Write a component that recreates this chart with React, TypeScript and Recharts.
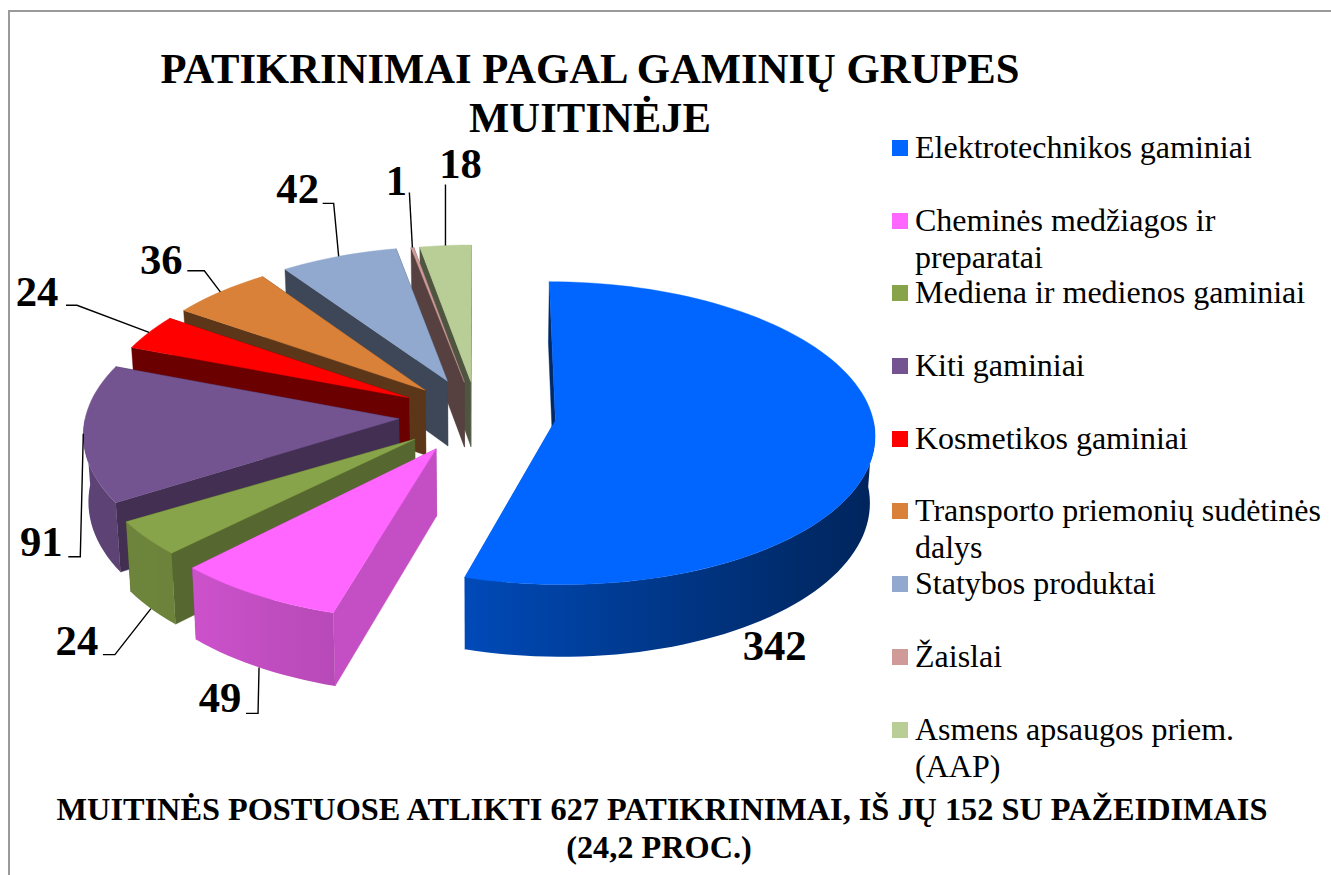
import React from "react";
import { PieChart, Pie, Legend } from "recharts";

const categories = [
  "Elektrotechnikos gaminiai",
  "Cheminės medžiagos ir preparatai",
  "Mediena ir medienos gaminiai",
  "Kiti gaminiai",
  "Kosmetikos gaminiai",
  "Transporto priemonių sudėtinės dalys",
  "Statybos produktai",
  "Žaislai",
  "Asmens apsaugos priem. (AAP)",
];
const values = [342, 49, 24, 91, 24, 36, 42, 1, 18];
const colors = ["#0066FF", "#FF66FF", "#88A44A", "#735390", "#FF0000", "#D98138", "#91A8CF", "#CF9A98", "#B9CD96"];
const explosions = [0.249, 0.25, 0.248, 0.247, 0.245, 0.233, 0.243, 0.22, 0.22];
const radii = [1, 1, 1, 0.988, 0.977, 0.989, 0.984, 1, 1];
const flatten = [0.97, 0.98, 0.95, 1, 1, 1, 1, 1, 1];
const titleLines = ["PATIKRINIMAI PAGAL GAMINIŲ GRUPES", "MUITINĖJE"];
const footerLines = ["MUITINĖS POSTUOSE ATLIKTI 627 PATIKRINIMAI, IŠ JŲ 152 SU PAŽEIDIMAIS", "(24,2 PROC.)"];
const footerCenters = [662, 659];

// Label placement relative to the slice's rim point: text, leader start, leader elbow, rim level
type LabelPlace = { text: [number, number]; start?: [number, number]; elbow?: [number, number]; z: number };
const labelPlaces: LabelPlace[] = [
  { text: [-95, 151], z: 1 },
  { text: [-39, 45], start: [-13, 46], elbow: [-1, 46], z: 1 },
  { text: [-74, 46], start: [-48, 46], elbow: [-36, 46], z: 1 },
  { text: [-42, 122], start: [-15, 123], elbow: [-3, 123], z: 0 },
  { text: [-112, -26], start: [-83, -27], elbow: [-72, -27], z: 0 },
  { text: [-59, -18], start: [-33, -21], elbow: [-16, -21], z: 0 },
  { text: [-41, -53], start: [-16, -53], elbow: [-5, -53], z: 0 },
  { text: [-16, -53], elbow: [-3, -55], z: 0 },
  { text: [15, -68], elbow: [0, -61], z: 0 },
];

// data table, drawn back-to-front so nearer slices cover farther ones
const table = categories
  .map((name, i) => ({ name, value: values[i], fill: colors[i], order: i }))
  .reverse();

const SERIF = "'Liberation Serif', 'Times New Roman', serif";
const RATIO = 0.486; // flattening of the tilted disc
const PERSP = 0.086; // perspective growth toward the viewer
const DEPTH = 66; // thickness of the disc
const SHRINK = 0.013; // lower face is slightly narrower
const RAD = Math.PI / 180;

function project(
  cx: number, cy: number, A: number, e: number, m: number, r: number, t: number, z: number, ry = 1,
) {
  const x = e * Math.sin(m * RAD) + r * Math.sin(t * RAD);
  const y = -e * Math.cos(m * RAD) - r * ry * Math.cos(t * RAD);
  const f = 1 / (1 - y * PERSP);
  return {
    x: cx + x * A * f * (1 - z * SHRINK),
    y: cy + y * A * RATIO * f + z * DEPTH * f,
  };
}

function shade(hex: string, b: number) {
  const n = parseInt(hex.slice(1), 16);
  const c = (v: number) => Math.min(255, Math.round(v * b)).toString(16).padStart(2, "0");
  return `#${c((n >> 16) & 255)}${c((n >> 8) & 255)}${c(n & 255)}`;
}

const rimStops: [number, number][] = [
  [90, 0.34], [130, 0.4], [160, 0.52], [196, 0.72], [224, 0.8], [270, 0.82],
];
function rimBright(t: number) {
  for (let i = 1; i < rimStops.length; i++) {
    const [a, ba] = rimStops[i - 1];
    const [b, bb] = rimStops[i];
    if (t <= b) return ba + ((bb - ba) * (t - a)) / (b - a);
  }
  return 0.82;
}
function wallBright(t: number) {
  if (t < 180) return 0.4;
  return Math.max(0.42, 0.42 + ((270 - t) / 74) * 0.35);
}

const toPath = (pts: { x: number; y: number }[]) =>
  pts.map((p, i) => `${i ? "L" : "M"}${p.x.toFixed(2)} ${p.y.toFixed(2)}`).join("") + "Z";

function clockRange(startAngle: number, endAngle: number) {
  return [90 - Math.max(startAngle, endAngle), 90 - Math.min(startAngle, endAngle)];
}

function Slice3D(props: any) {
  const { cx, cy, outerRadius: A, startAngle, endAngle, fill, payload } = props;
  const order: number = payload?.order ?? props.order;
  const [t0, t1] = clockRange(startAngle, endAngle);
  const m = (t0 + t1) / 2;
  const e = explosions[order];
  const R = radii[order];
  const P = (r: number, t: number, z: number) => project(cx, cy, A, e, m, r * R, t, z, flatten[order]);

  const arc = (a: number, b: number, z: number) => {
    const n = Math.max(2, Math.ceil((b - a) / 2));
    return Array.from({ length: n + 1 }, (_, i) => P(1, a + ((b - a) * i) / n, z));
  };
  const top = toPath([P(0, 0, 0), ...arc(t0, t1, 0)]);
  const wall = (t: number) => toPath([P(0, 0, 0), P(1, t, 0), P(1, t, 1), P(0, 0, 1)]);

  const ra = Math.max(t0, 90);
  const rb = Math.min(t1, 270);
  const hasRim = rb > ra;
  const gid = `rim-${order}`;
  const stops: { o: number; c: string }[] = [];
  let x0 = 0;
  let x1 = 1;
  if (hasRim) {
    x0 = P(1, rb, 0).x;
    x1 = P(1, ra, 0).x;
    for (let i = 0; i <= 12; i++) {
      const t = rb + ((ra - rb) * i) / 12;
      stops.push({ o: (P(1, t, 0).x - x0) / (x1 - x0 || 1), c: shade(fill, rimBright(t)) });
    }
  }
  const endShade = shade(fill, wallBright(t1));
  const startShade = shade(fill, wallBright(t0));
  return (
    <g>
      {hasRim && (
        <defs>
          <linearGradient id={gid} gradientUnits="userSpaceOnUse" x1={x0} x2={x1} y1={0} y2={0}>
            {stops.map((s, i) => (
              <stop key={i} offset={s.o} stopColor={s.c} />
            ))}
          </linearGradient>
        </defs>
      )}
      <path d={wall(t1)} fill={endShade} stroke={endShade} strokeWidth={0.4} />
      <path d={wall(t0)} fill={startShade} stroke={startShade} strokeWidth={0.4} />
      {hasRim && <path d={toPath([...arc(ra, rb, 0), ...arc(ra, rb, 1).reverse()])} fill={`url(#${gid})`} />}
      <path d={top} fill={fill} stroke={fill} strokeWidth={0.4} />
    </g>
  );
}

function SliceLabel(props: any) {
  const { cx, cy, outerRadius: A, midAngle, value, payload } = props;
  const order: number = payload?.order ?? props.order;
  const place = labelPlaces[order];
  const m = 90 - midAngle;
  const norm = ((m % 360) + 360) % 360;
  const p = project(cx, cy, A, explosions[order], norm, radii[order], norm, place.z, flatten[order]);
  const pts = [place.start, place.elbow]
    .filter(Boolean)
    .map((d) => `${p.x + d![0]},${p.y + d![1]}`);
  return (
    <g>
      {pts.length > 0 && (
        <polyline points={[...pts, `${p.x},${p.y}`].join(" ")} fill="none" stroke="#000" strokeWidth={1.4} />
      )}
      <text
        x={p.x + place.text[0]}
        y={p.y + place.text[1]}
        textAnchor="middle"
        fontFamily={SERIF}
        fontWeight="bold"
        fontSize={42.67}
        fill="#000"
      >
        {value}
      </text>
    </g>
  );
}

function LegendBox(props: any) {
  const items = [...(props.payload ?? [])].sort(
    (a: any, b: any) => categories.indexOf(a.value) - categories.indexOf(b.value),
  );
  return (
    <div style={{ fontFamily: SERIF, fontSize: 32, lineHeight: "37px", color: "#000" }}>
      {items.map((it: any) => (
        <div key={it.value} style={{ height: 72.7, position: "relative" }}>
          <span
            style={{ position: "absolute", left: 0, top: 11, width: 16, height: 16, background: it.color }}
          />
          <div style={{ position: "absolute", left: 23, top: 0, width: 410 }}>{it.value}</div>
        </div>
      ))}
    </div>
  );
}

export default function App() {
  return (
    <div style={{ position: "fixed", left: 0, top: 0, width: 1331, height: 875, background: "#fff" }}>
      <PieChart width={1331} height={875} margin={{ top: 0, right: 0, bottom: 0, left: 0 }}>
        <path d="M9 875V11H1331" fill="none" stroke="#9a9a9a" strokeWidth={2} />
        {titleLines.map((t, i) => (
          <text
            key={t}
            x={590}
            y={83 + i * 49}
            textAnchor="middle"
            fontFamily={SERIF}
            fontWeight="bold"
            fontSize={42.67}
            fill="#000"
          >
            {t}
          </text>
        ))}
        <Pie
          data={table}
          dataKey="value"
          nameKey="name"
          cx={477}
          cy={415}
          innerRadius={0}
          outerRadius={317}
          startAngle={-270}
          endAngle={90}
          stroke="none"
          isAnimationActive={false}
          shape={Slice3D}
          label={SliceLabel}
          labelLine={false}
        />
        <Legend
          layout="vertical"
          content={LegendBox}
          wrapperStyle={{ position: "absolute", left: 892, top: 129, width: 439, height: 660, bottom: "auto" }}
        />
        {footerLines.map((t, i) => (
          <text
            key={t}
            x={footerCenters[i]}
            y={820 + i * 38}
            textAnchor="middle"
            fontFamily={SERIF}
            fontWeight="bold"
            fontSize={32.3}
            fill="#000"
          >
            {t}
          </text>
        ))}
      </PieChart>
    </div>
  );
}
